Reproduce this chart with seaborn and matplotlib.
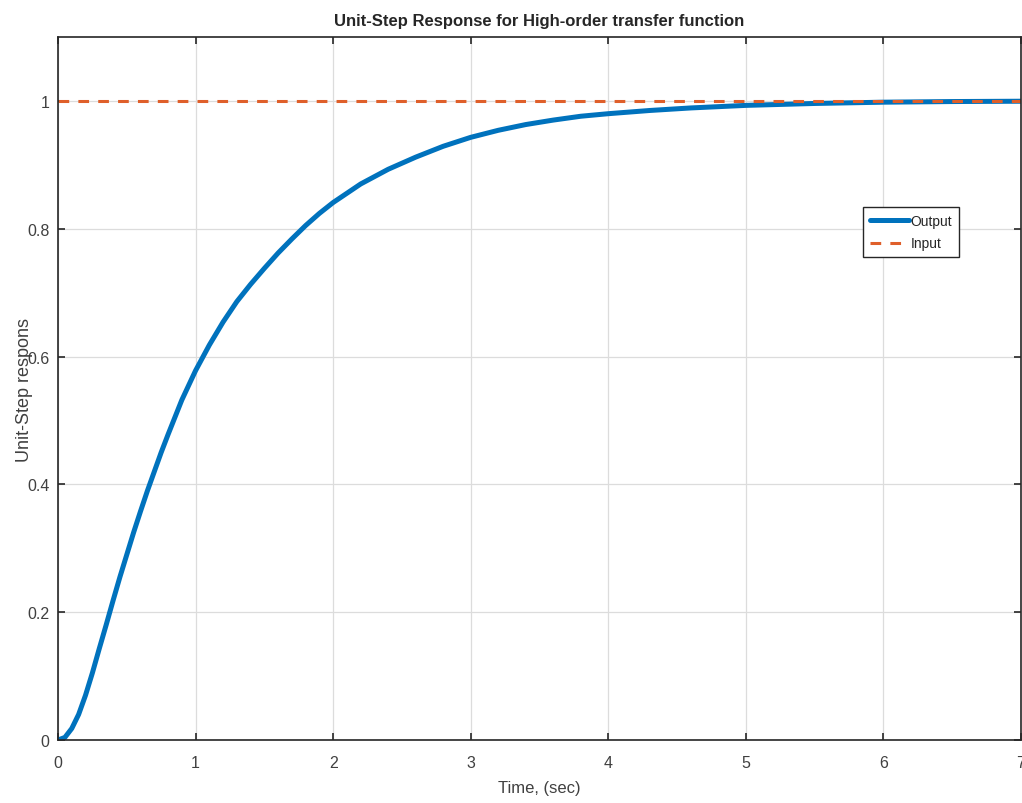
import seaborn as sns
import matplotlib.pyplot as plt
import pandas as pd
import numpy as np

# values
time_s = [0.0, 0.05, 0.1, 0.15, 0.2, 0.25, 0.3, 0.35, 0.4, 0.45, 0.5, 0.55,
          0.6, 0.65, 0.7, 0.75, 0.8, 0.9, 1.0, 1.1, 1.2, 1.3, 1.4, 1.5, 1.6,
          1.7, 1.8, 1.9, 2.0, 2.2, 2.4, 2.6, 2.8, 3.0, 3.2, 3.4, 3.6, 3.8,
          4.0, 4.3, 4.6, 5.0, 5.5, 6.0, 6.5, 7.0]
output_y = [0.0, 0.004, 0.018, 0.04, 0.07, 0.105, 0.143, 0.18, 0.218, 0.255, 0.29, 0.325,
            0.358, 0.39, 0.42, 0.45, 0.478, 0.532, 0.578, 0.618, 0.654, 0.686, 0.713,
            0.738, 0.762, 0.784, 0.805, 0.824, 0.841, 0.87, 0.893, 0.912, 0.929, 0.943,
            0.954, 0.963, 0.97, 0.976, 0.98, 0.985, 0.989, 0.993, 0.996, 0.998, 0.999,
            0.9995]
input_t = [0.0, 7.0]
input_y = [1.0, 1.0]

out_df = pd.DataFrame({'t': time_s, 'y': output_y})
in_df = pd.DataFrame({'t': input_t, 'y': input_y})

sns.set_style('ticks')
plt.rcParams['font.family'] = ['Liberation Sans', 'DejaVu Sans']

fig = plt.figure(figsize=(10.22, 8.04), dpi=100)
ax = fig.add_axes([58 / 1022, 1 - 741 / 804, 963 / 1022, 703 / 804])

sns.lineplot(data=out_df, x='t', y='y', ax=ax, color='#0072BD', linewidth=3.6,
             label='Output')
sns.lineplot(data=in_df, x='t', y='y', ax=ax, color='#DF5F2A', linewidth=2.2,
             linestyle=(0, (3.5, 3)), label='Input')

ax.set_xlim(0, 7)
ax.set_ylim(0, 1.1)
ax.set_xticks(range(0, 8))
ax.set_yticks([0, 0.2, 0.4, 0.6, 0.8, 1])
ax.set_yticklabels(['0', '0.2', '0.4', '0.6', '0.8', '1'])
ax.grid(True, color='#dcdcdc', linewidth=0.9)
ax.tick_params(direction='in', length=5, width=1.2, colors='#262626',
               labelsize=11.5, top=True, right=True)
ax.tick_params(axis='x', pad=11, labelcolor='#404040')
ax.tick_params(axis='y', pad=6, labelcolor='#404040')
for s in ax.spines.values():
    s.set_visible(True)
    s.set_color('#262626')
    s.set_linewidth(1.2)

ax.set_title('Unit-Step Response for High-order transfer function',
             fontsize=12, fontweight='bold', pad=9)
ax.set_xlabel('Time, (sec)', fontsize=12, color='#404040', labelpad=7)
ax.set_ylabel('Unit-Step respons', fontsize=13, color='#404040', labelpad=-4)

leg = ax.legend(loc='upper left', bbox_to_anchor=(0.836, 0.758), fontsize=10,
                handlelength=2.8, handletextpad=0.1, borderpad=0.5,
                labelspacing=0.6, fancybox=False, framealpha=1, borderaxespad=0)
leg.get_frame().set_edgecolor('#262626')
leg.get_frame().set_linewidth(1.0)

fig.savefig('out.png', dpi=100)
